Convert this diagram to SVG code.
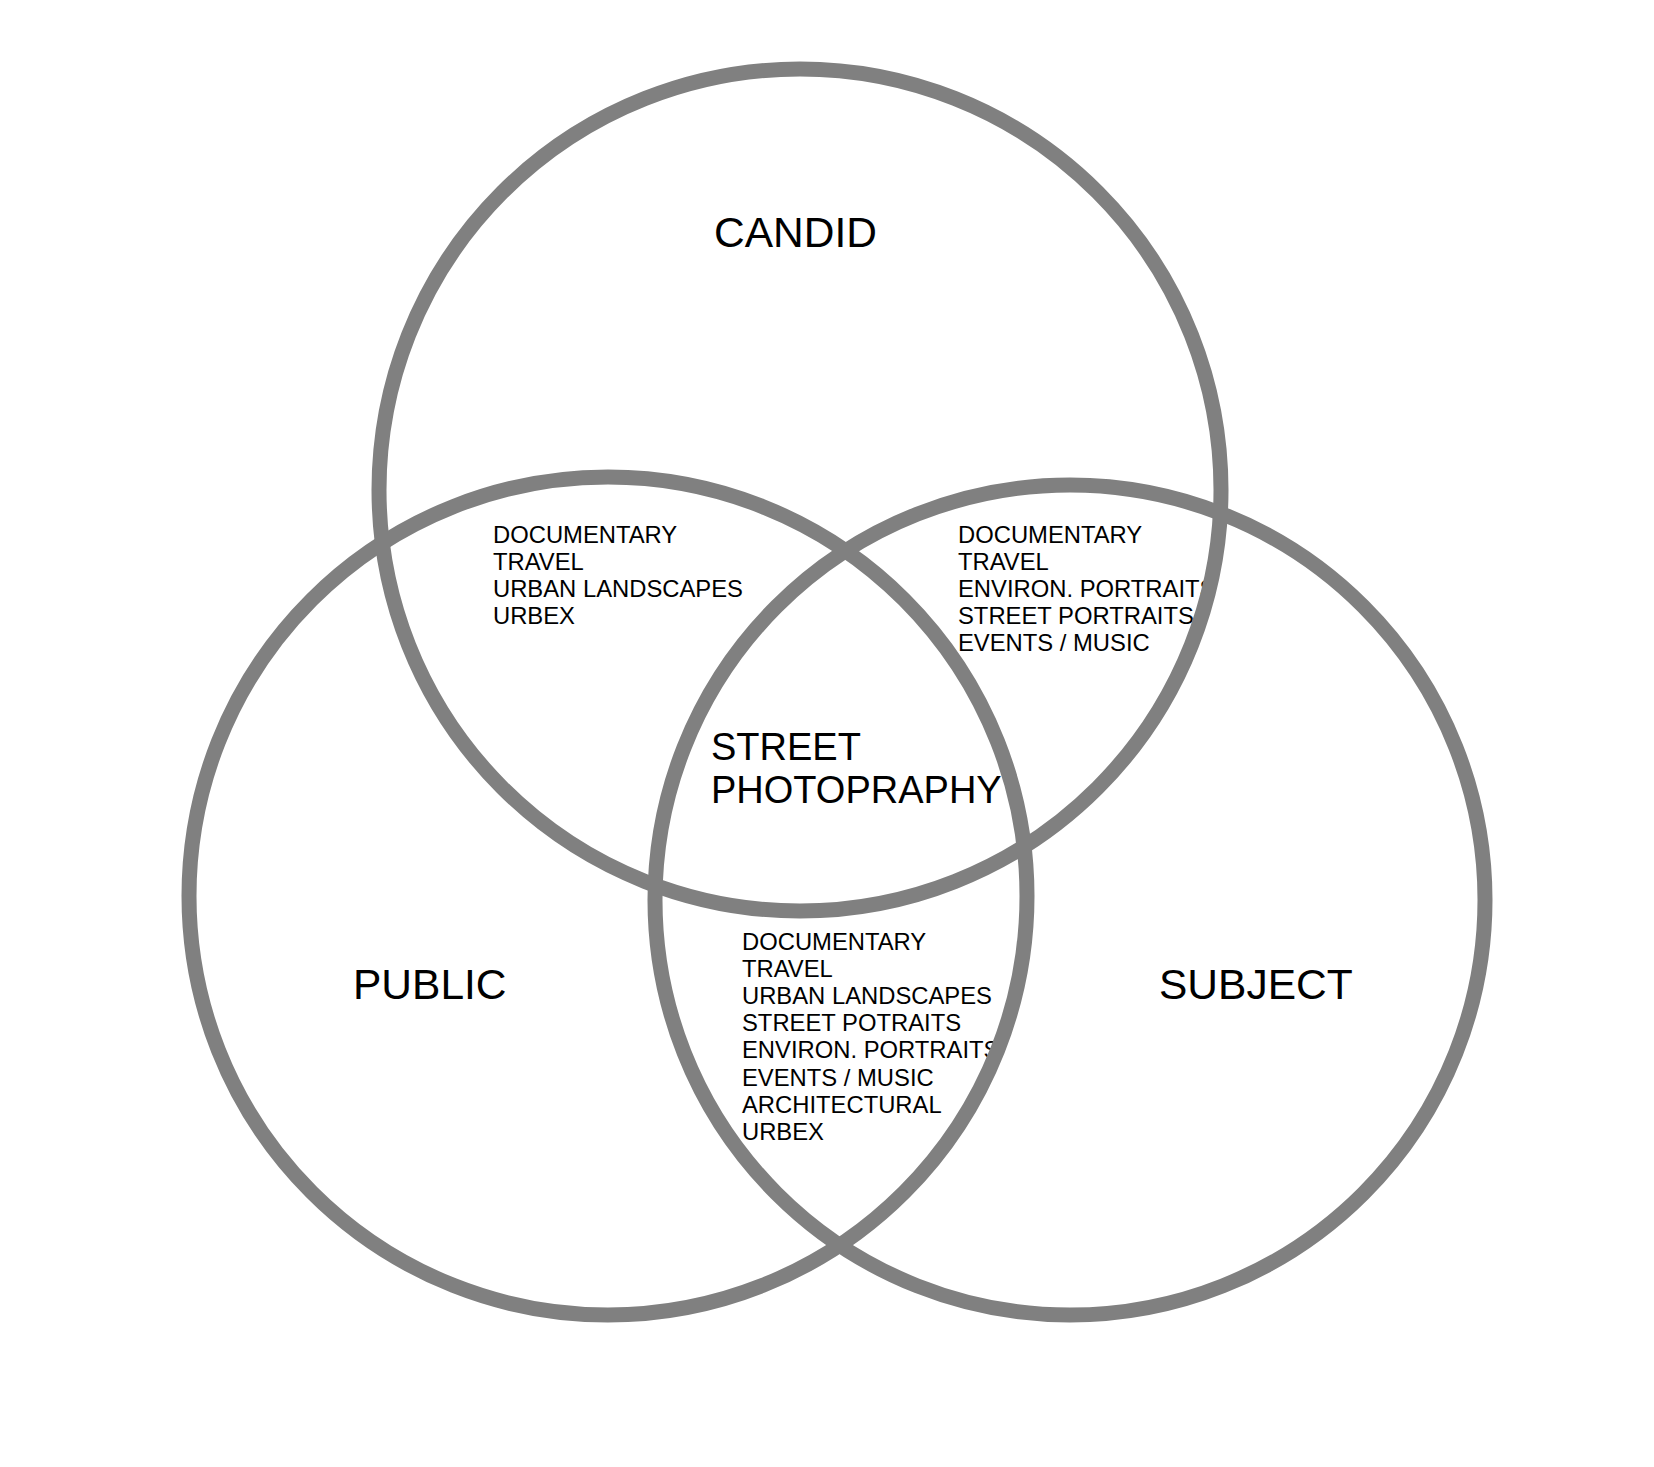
<svg xmlns="http://www.w3.org/2000/svg" width="1654" height="1467" viewBox="0 0 1654 1467">
<style>
.ring{fill:none;stroke:#808080;stroke-width:15}
.big{font-family:"Liberation Sans",Arial,sans-serif;font-size:42.5px;fill:#000}
.mid{font-family:"Liberation Sans",Arial,sans-serif;font-size:38px;fill:#000}
.small{font-family:"Liberation Sans",Arial,sans-serif;font-size:23.8px;fill:#000}
</style>
<rect width="1654" height="1467" fill="#fff"/>
<g id="region-candid-public">
<text class="small" x="493" y="543">DOCUMENTARY</text>
<text class="small" x="493" y="570">TRAVEL</text>
<text class="small" x="493" y="597">URBAN LANDSCAPES</text>
<text class="small" x="493" y="624">URBEX</text>
</g>
<g id="region-candid-subject">
<text class="small" x="958" y="543">DOCUMENTARY</text>
<text class="small" x="958" y="570">TRAVEL</text>
<text class="small" x="958" y="597">ENVIRON. PORTRAITS</text>
<text class="small" x="958" y="624">STREET PORTRAITS</text>
<text class="small" x="958" y="651">EVENTS / MUSIC</text>
</g>
<g id="region-public-subject">
<text class="small" x="742" y="950">DOCUMENTARY</text>
<text class="small" x="742" y="977">TRAVEL</text>
<text class="small" x="742" y="1004">URBAN LANDSCAPES</text>
<text class="small" x="742" y="1031">STREET POTRAITS</text>
<text class="small" x="742" y="1058">ENVIRON. PORTRAITS</text>
<text class="small" x="742" y="1086">EVENTS / MUSIC</text>
<text class="small" x="742" y="1113">ARCHITECTURAL</text>
<text class="small" x="742" y="1140">URBEX</text>
</g>
<g id="region-center">
<text class="mid" x="711" y="760">STREET</text>
<text class="mid" x="711" y="803">PHOTOPRAPHY</text>
</g>
<g id="connectors"></g>
<g id="candid">
<circle class="ring" cx="800" cy="490" r="421"/>
<text class="big" x="714" y="247">CANDID</text>
</g>
<g id="public">
<circle class="ring" cx="608" cy="896" r="419"/>
<text class="big" x="353" y="999">PUBLIC</text>
</g>
<g id="subject">
<circle class="ring" cx="1070" cy="900" r="415"/>
<text class="big" x="1159" y="999">SUBJECT</text>
</g>
</svg>
